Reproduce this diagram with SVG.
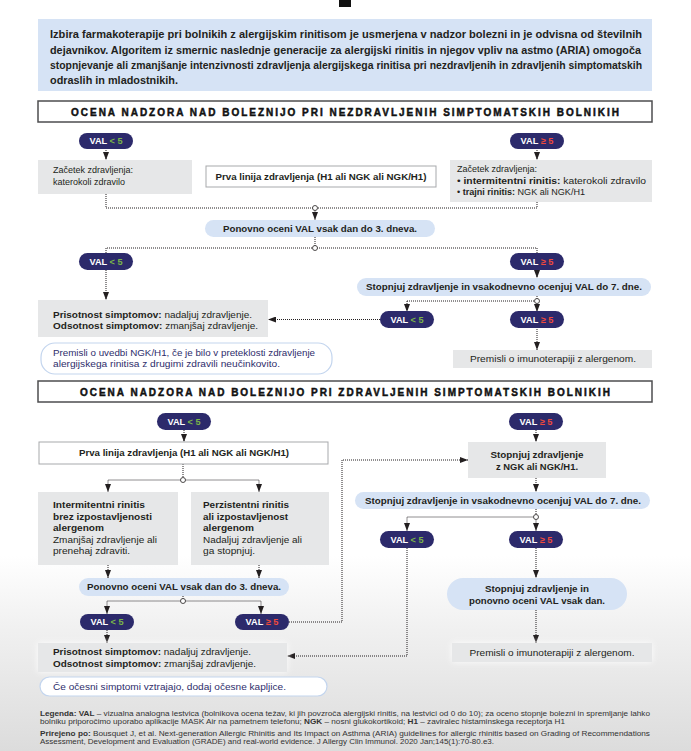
<svg xmlns="http://www.w3.org/2000/svg" width="691" height="751" viewBox="0 0 691 751">
<defs>
<linearGradient id="bg" x1="0" y1="0" x2="0" y2="1">
<stop offset="0" stop-color="#ffffff"/>
<stop offset="0.74" stop-color="#ffffff"/>
<stop offset="0.84" stop-color="#f0f0f0"/>
<stop offset="1" stop-color="#dcdcdc"/>
</linearGradient>
<filter id="glow" x="-20%" y="-50%" width="140%" height="200%">
<feDropShadow dx="0" dy="0" stdDeviation="3" flood-color="#ffffff" flood-opacity="0.9"/>
</filter>
<marker id="ah" viewBox="0 0 8 6" refX="8" refY="3" markerWidth="8" markerHeight="6" markerUnits="userSpaceOnUse" orient="auto">
<path d="M0,0 L8,3 L0,6 z" fill="#231f20"/>
</marker>
<style>
text{font-family:"Liberation Sans",Arial,sans-serif;font-size:9px;fill:#231f20}
.b{font-weight:700}
.info{font-size:10.5px;font-weight:700}
.hd{font-size:10px;font-weight:700;fill:#111;stroke:#111;stroke-width:0.45}
.lg{font-size:6.6px;fill:#333}
.v{font-weight:700;fill:#fff;font-size:9.2px}
.g{fill:#7ab648}
.r{fill:#ef4a3c}
.nv{fill:#2e2d6b}
.pill{fill:#2c2a6b}
.lb{fill:#d6e3f5}
.gr{fill:#e6e7e8}
.wb{fill:#fff;stroke:#a7a9ac;stroke-width:1}
.rb{fill:#fff;stroke:#c3d5ee;stroke-width:1.2}
.hb{fill:#fff;stroke:#4d4d4f;stroke-width:1.5}
.c{fill:none;stroke:#231f20;stroke-width:1;stroke-dasharray:1 1}
.a{marker-end:url(#ah)}
.o{fill:#fff;stroke:#231f20;stroke-width:0.8}
.gl{filter:url(#glow)}
</style>
</defs>
<rect x="0" y="0" width="691" height="751" fill="url(#bg)"/>
<rect x="339" y="0" width="12" height="7" fill="#111"/>

<g id="intro">
<rect x="38" y="19" width="614" height="72" class="lb"/>
<text x="50" y="38" class="info" textLength="592" lengthAdjust="spacingAndGlyphs">Izbira farmakoterapije pri bolnikih z alergijskim rinitisom je usmerjena v nadzor bolezni in je odvisna od številnih</text>
<text x="50" y="54" class="info" textLength="591" lengthAdjust="spacingAndGlyphs">dejavnikov. Algoritem iz smernic naslednje generacije za alergijski rinitis in njegov vpliv na astmo (ARIA) omogoča</text>
<text x="50" y="69" class="info" textLength="592" lengthAdjust="spacingAndGlyphs">stopnjevanje ali zmanjšanje intenzivnosti zdravljenja alergijskega rinitisa pri nezdravljenih in zdravljenih simptomatskih</text>
<text x="50" y="84" class="info" textLength="128" lengthAdjust="spacingAndGlyphs">odraslih in mladostnikih.</text>
</g>

<g id="header1">
<rect x="38" y="101" width="614" height="21" class="hb"/>
<text x="71" y="115.5" class="hd" textLength="548" lengthAdjust="spacing">OCENA NADZORA NAD BOLEZNIJO PRI NEZDRAVLJENIH SIMPTOMATSKIH BOLNIKIH</text>
</g>

<g id="connectors">
<path class="c a" d="M106,148 V160"/>
<path class="c a" d="M537,148 V160"/>
<path class="c" d="M106,194 V208 H537 V202"/>
<path class="c a" d="M315,210.5 V220"/>
<path class="c" d="M315,237 V248"/>
<path class="c" d="M106,253 V248 H537 V253"/>
<path class="c a" d="M106,270 V300"/>
<path class="c a" d="M537,270 V278"/>
<path class="c" d="M537,296 V301"/>
<path class="c a" d="M407,301 H534.5 M407,301 V312"/>
<path class="c a" d="M537,303.5 V312"/>
<path class="c a" d="M380,319.5 H268"/>
<path class="c a" d="M537,327 V350" stroke-dasharray="2 1"/>
<path class="c a" d="M184,430 V442"/>
<path class="c" d="M183,464 V480"/>
<path class="c a" d="M180.5,480 H108 V492"/>
<path class="c a" d="M185.5,480 H259 V492"/>
<path class="c a" d="M536,430 V442"/>
<path class="c a" d="M108,565 V578"/>
<path class="c a" d="M259,565 V578"/>
<path class="c" d="M183,596 V601"/>
<path class="c a" d="M180.5,601 H107 V614"/>
<path class="c a" d="M185.5,601 H261 V614"/>
<path class="c a" d="M107,630 V643"/>
<path class="c a" d="M289,622 H342 V460 H468"/>
<path class="c a" d="M536,478 V492"/>
<path class="c" d="M536,509 V517"/>
<path class="c a" d="M533.5,517 H407 V531"/>
<path class="c a" d="M536,519.5 V531"/>
<path class="c a" d="M407,548 V656 H287"/>
<path class="c a" d="M536,548 V578"/>
<path class="c a" d="M536,610 V643"/>
<circle cx="315" cy="208" r="2.5" class="o"/>
<circle cx="315" cy="248" r="2.5" class="o"/>
<circle cx="537" cy="301" r="2.5" class="o"/>
<circle cx="183" cy="480" r="2.5" class="o"/>
<circle cx="183" cy="601" r="2.5" class="o"/>
<circle cx="536" cy="517" r="2.5" class="o"/>
</g>

<g id="u-val-lt5-a">
<rect x="79" y="133" width="54" height="16" rx="8" class="pill"/>
<text x="106" y="144.3" text-anchor="middle" class="v">VAL <tspan class="g">&lt; 5</tspan></text>
</g>
<g id="u-val-ge5-a">
<rect x="510" y="133" width="54" height="16" rx="8" class="pill"/>
<text x="537" y="144.3" text-anchor="middle" class="v">VAL <tspan class="r">≥ 5</tspan></text>
</g>
<g id="u-start-left">
<rect x="38" y="160" width="154" height="34" class="gr"/>
<text x="53" y="173">Začetek zdravljenja:</text>
<text x="53" y="185">katerokoli zdravilo</text>
</g>
<g id="u-first-line">
<rect x="206" y="166" width="230" height="21" class="wb"/>
<text x="321" y="180" text-anchor="middle" class="b" textLength="211" lengthAdjust="spacingAndGlyphs">Prva linija zdravljenja (H1 ali NGK ali NGK/H1)</text>
</g>
<g id="u-start-right">
<rect x="450" y="160" width="202" height="42" class="gr"/>
<text x="457" y="172">Začetek zdravljenja:</text>
<text x="457" y="184" textLength="189" lengthAdjust="spacingAndGlyphs">• <tspan class="b">intermitentni rinitis:</tspan> katerokoli zdravilo</text>
<text x="457" y="195" textLength="128" lengthAdjust="spacingAndGlyphs">• <tspan class="b">trajni rinitis:</tspan> NGK ali NGK/H1</text>
</g>
<g id="u-reassess3">
<rect x="205" y="220" width="230" height="17" rx="8.5" class="lb"/>
<text x="320" y="231.5" text-anchor="middle" class="b" textLength="194" lengthAdjust="spacingAndGlyphs">Ponovno oceni VAL vsak dan do 3. dneva.</text>
</g>
<g id="u-val-lt5-b">
<rect x="79" y="253" width="54" height="17" rx="8.5" class="pill"/>
<text x="106" y="264.8" text-anchor="middle" class="v">VAL <tspan class="g">&lt; 5</tspan></text>
</g>
<g id="u-val-ge5-b">
<rect x="510" y="253" width="54" height="17" rx="8.5" class="pill"/>
<text x="537" y="264.8" text-anchor="middle" class="v">VAL <tspan class="r">≥ 5</tspan></text>
</g>
<g id="u-stepup7">
<rect x="357" y="278" width="294" height="18" rx="9" class="lb"/>
<text x="504" y="290.3" text-anchor="middle" class="b" textLength="276" lengthAdjust="spacingAndGlyphs">Stopnjuj zdravljenje in vsakodnevno ocenjuj VAL do 7. dne.</text>
</g>
<g id="u-symptoms">
<rect x="38" y="300" width="230" height="37" class="gr"/>
<text x="53" y="318" textLength="199" lengthAdjust="spacingAndGlyphs"><tspan class="b">Prisotnost simptomov:</tspan> nadaljuj zdravljenje.</text>
<text x="53" y="329" textLength="205" lengthAdjust="spacingAndGlyphs"><tspan class="b">Odsotnost simptomov:</tspan> zmanjšaj zdravljenje.</text>
</g>
<g id="u-val-lt5-c">
<rect x="380" y="311" width="54" height="17" rx="8.5" class="pill"/>
<text x="407" y="322.8" text-anchor="middle" class="v">VAL <tspan class="g">&lt; 5</tspan></text>
</g>
<g id="u-val-ge5-c">
<rect x="510" y="311" width="54" height="17" rx="8.5" class="pill"/>
<text x="537" y="322.8" text-anchor="middle" class="v">VAL <tspan class="r">≥ 5</tspan></text>
</g>
<g id="u-note">
<rect x="41" y="343" width="291" height="31" rx="14" class="rb"/>
<text x="53" y="356" class="nv" textLength="262" lengthAdjust="spacingAndGlyphs">Premisli o uvedbi NGK/H1, če je bilo v preteklosti zdravljenje</text>
<text x="53" y="367" class="nv" textLength="227" lengthAdjust="spacingAndGlyphs">alergijskega rinitisa z drugimi zdravili neučinkovito.</text>
</g>
<g id="u-immuno">
<rect x="453" y="350" width="199" height="18" class="gr"/>
<text x="553" y="362.3" text-anchor="middle" textLength="166" lengthAdjust="spacingAndGlyphs">Premisli o imunoterapiji z alergenom.</text>
</g>

<g id="header2">
<rect x="38" y="381" width="614" height="21" class="hb"/>
<text x="80" y="395.5" class="hd" textLength="530" lengthAdjust="spacing">OCENA NADZORA NAD BOLEZNIJO PRI ZDRAVLJENIH SIMPTOMATSKIH BOLNIKIH</text>
</g>

<g id="l-val-lt5-a">
<rect x="157" y="413" width="54" height="17" rx="8.5" class="pill"/>
<text x="184" y="424.8" text-anchor="middle" class="v">VAL <tspan class="g">&lt; 5</tspan></text>
</g>
<g id="l-val-ge5-a">
<rect x="509" y="413" width="54" height="17" rx="8.5" class="pill"/>
<text x="536" y="424.8" text-anchor="middle" class="v">VAL <tspan class="r">≥ 5</tspan></text>
</g>
<g id="l-first-line">
<rect x="39" y="442" width="289" height="22" class="wb"/>
<text x="184" y="456" text-anchor="middle" class="b" textLength="210" lengthAdjust="spacingAndGlyphs">Prva linija zdravljenja (H1 ali NGK ali NGK/H1)</text>
</g>
<g id="l-stepup-ngk">
<rect x="468" y="442" width="138" height="36" class="gr"/>
<text x="537" y="458" text-anchor="middle" class="b" textLength="93" lengthAdjust="spacingAndGlyphs">Stopnjuj zdravljenje</text>
<text x="537" y="469.5" text-anchor="middle" class="b" textLength="82" lengthAdjust="spacingAndGlyphs">z NGK ali NGK/H1.</text>
</g>
<g id="l-intermittent">
<rect x="38" y="492" width="140" height="73" class="gr"/>
<text x="53" y="508" class="b" textLength="92" lengthAdjust="spacingAndGlyphs">Intermitentni rinitis</text>
<text x="53" y="520" class="b" textLength="99" lengthAdjust="spacingAndGlyphs">brez izpostavljenosti</text>
<text x="53" y="531" class="b" textLength="51" lengthAdjust="spacingAndGlyphs">alergenom</text>
<text x="53" y="543" textLength="104" lengthAdjust="spacingAndGlyphs">Zmanjšaj zdravljenje ali</text>
<text x="53" y="554" textLength="77" lengthAdjust="spacingAndGlyphs">prenehaj zdraviti.</text>
</g>
<g id="l-persistent">
<rect x="191" y="492" width="138" height="73" class="gr"/>
<text x="203" y="508" class="b" textLength="86" lengthAdjust="spacingAndGlyphs">Perzistentni rinitis</text>
<text x="203" y="520" class="b" textLength="85" lengthAdjust="spacingAndGlyphs">ali izpostavljenost</text>
<text x="203" y="531" class="b" textLength="51" lengthAdjust="spacingAndGlyphs">alergenom</text>
<text x="203" y="543" textLength="99" lengthAdjust="spacingAndGlyphs">Nadaljuj zdravljenje ali</text>
<text x="203" y="554" textLength="52" lengthAdjust="spacingAndGlyphs">ga stopnjuj.</text>
</g>
<g id="l-stepup7">
<rect x="355" y="492" width="295" height="17" rx="8.5" class="lb"/>
<text x="503" y="503.8" text-anchor="middle" class="b" textLength="276" lengthAdjust="spacingAndGlyphs">Stopnjuj zdravljenje in vsakodnevno ocenjuj VAL do 7. dne.</text>
</g>
<g id="l-val-lt5-b">
<rect x="380" y="531" width="54" height="17" rx="8.5" class="pill"/>
<text x="407" y="542.8" text-anchor="middle" class="v">VAL <tspan class="g">&lt; 5</tspan></text>
</g>
<g id="l-val-ge5-b">
<rect x="509" y="531" width="54" height="17" rx="8.5" class="pill"/>
<text x="536" y="542.8" text-anchor="middle" class="v">VAL <tspan class="r">≥ 5</tspan></text>
</g>
<g id="l-reassess3">
<rect x="79" y="578" width="210" height="18" rx="9" class="lb"/>
<text x="184" y="590.3" text-anchor="middle" class="b" textLength="194" lengthAdjust="spacingAndGlyphs">Ponovno oceni VAL vsak dan do 3. dneva.</text>
</g>
<g id="l-stepup-daily">
<rect x="447" y="578" width="180" height="32" rx="16" class="lb"/>
<text x="537" y="592" text-anchor="middle" class="b" textLength="104" lengthAdjust="spacingAndGlyphs">Stopnjuj zdravljenje in</text>
<text x="537" y="604" text-anchor="middle" class="b" textLength="136" lengthAdjust="spacingAndGlyphs">ponovno oceni VAL vsak dan.</text>
</g>
<g id="l-val-lt5-c">
<rect x="80" y="614" width="54" height="16" rx="8" class="pill"/>
<text x="107" y="625.3" text-anchor="middle" class="v">VAL <tspan class="g">&lt; 5</tspan></text>
</g>
<g id="l-val-ge5-c">
<rect x="235" y="614" width="54" height="16" rx="8" class="pill"/>
<text x="262" y="625.3" text-anchor="middle" class="v">VAL <tspan class="r">≥ 5</tspan></text>
</g>
<g id="l-symptoms">
<rect x="38" y="643" width="249" height="29" class="gr gl"/>
<text x="53" y="655" textLength="198" lengthAdjust="spacingAndGlyphs"><tspan class="b">Prisotnost simptomov:</tspan> nadaljuj zdravljenje.</text>
<text x="53" y="667" textLength="203" lengthAdjust="spacingAndGlyphs"><tspan class="b">Odsotnost simptomov:</tspan> zmanjšaj zdravljenje.</text>
</g>
<g id="l-immuno">
<rect x="452" y="643" width="200" height="19" class="gr gl"/>
<text x="552" y="655.8" text-anchor="middle" textLength="165" lengthAdjust="spacingAndGlyphs">Premisli o imunoterapiji z alergenom.</text>
</g>
<g id="l-note">
<rect x="40" y="677" width="287" height="19" rx="9.5" class="rb"/>
<text x="53" y="689.8" class="nv" textLength="233" lengthAdjust="spacingAndGlyphs">Če očesni simptomi vztrajajo, dodaj očesne kapljice.</text>
</g>

<g id="legend">
<text x="40" y="716" class="lg" textLength="610" lengthAdjust="spacingAndGlyphs"><tspan class="b">Legenda: VAL</tspan> – vizualna analogna lestvica (bolnikova ocena težav, ki jih povzroča alergijski rinitis, na lestvici od 0 do 10); za oceno stopnje bolezni in spremljanje lahko</text>
<text x="40" y="724" class="lg" textLength="525" lengthAdjust="spacingAndGlyphs">bolniku priporočimo uporabo aplikacije MASK Air na pametnem telefonu; <tspan class="b">NGK</tspan> – nosni glukokortikoid; <tspan class="b">H1</tspan> – zaviralec histaminskega receptorja H1</text>
<text x="40" y="736" class="lg" textLength="610" lengthAdjust="spacingAndGlyphs"><tspan class="b">Prirejeno po:</tspan> Bousquet J, et al. Next-generation Allergic Rhinitis and Its Impact on Asthma (ARIA) guidelines for allergic rhinitis based on Grading of Recommendations</text>
<text x="40" y="744" class="lg" textLength="454" lengthAdjust="spacingAndGlyphs">Assessment, Development and Evaluation (GRADE) and real-world evidence. J Allergy Clin Immunol. 2020 Jan;145(1):70-80.e3.</text>
</g>
</svg>
